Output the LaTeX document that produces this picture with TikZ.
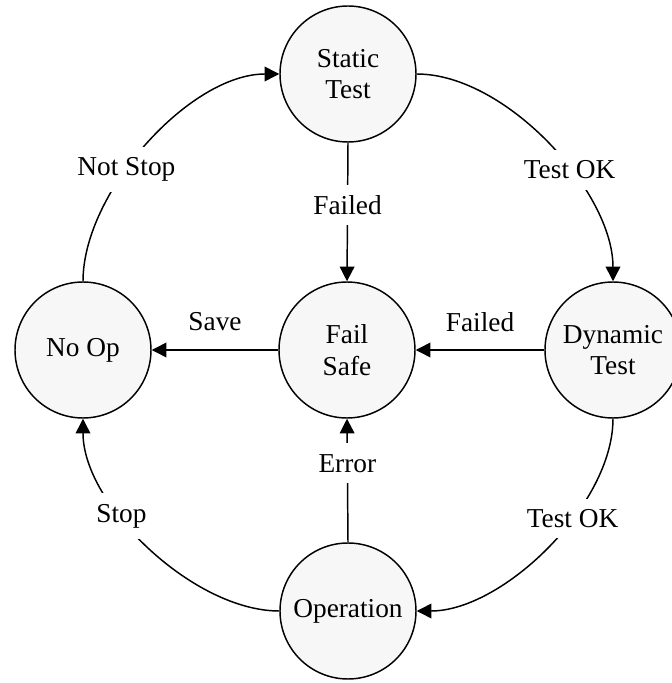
\documentclass[tikz,border=0pt]{standalone}
\usepackage{fontspec}
\setmainfont{Liberation Serif}
\usetikzlibrary{arrows.meta}
\begin{document}
\begin{tikzpicture}[x=0.75pt,y=0.75pt,
  state/.style={circle, draw, line width=1.1pt, fill=black!3, minimum size=102pt,
    inner sep=0pt, align=center, font=\fontsize{20.5}{23.5}\selectfont},
  trans/.style={line width=1.1pt, -{Triangle[length=11pt,width=11pt]}},
  lbl/.style={fill=white, inner xsep=5pt, inner ysep=8pt, font=\fontsize{20.5}{23.5}\selectfont}]
\useasboundingbox (0,0) rectangle (672,683);
% states
\node[state] (st) at (348,609) {Static\\Test};
\node[state] (no) at (83,333)  {No Op};
\node[state] (fs) at (347,333) {Fail\\Safe};
\node[state] (dt) at (613,333) {Dynamic\\Test};
\node[state] (op) at (348,72)  {Operation};
% transitions around the ring
\draw[trans] (st.east) to[out=0,in=90,looseness=0.8] node[lbl,pos=0.6] {Test OK} (dt.north);
\draw[trans] (dt.south) to[out=270,in=0,looseness=0.8] node[lbl,pos=0.38] {Test OK} (op.east);
\draw[trans] (op.west) to[out=180,in=270,looseness=0.8] node[lbl,pos=0.63] {Stop} (no.south);
\draw[trans] (no.north) to[out=90,in=180,looseness=0.8] node[lbl,pos=0.4] {Not Stop} (st.west);
% transitions into the fail-safe state
\draw[trans] (st.south) -- node[lbl,pos=0.45] {Failed} (fs.north);
\draw[trans] (op.north) -- node[lbl,pos=0.64] {Error} (fs.south);
\draw[trans] (dt.west) -- node[lbl,midway,yshift=21pt] {Failed} (fs.east);
\draw[trans] (fs.west) -- node[lbl,midway,yshift=21pt] {Save} (no.east);
\end{tikzpicture}
\end{document}
